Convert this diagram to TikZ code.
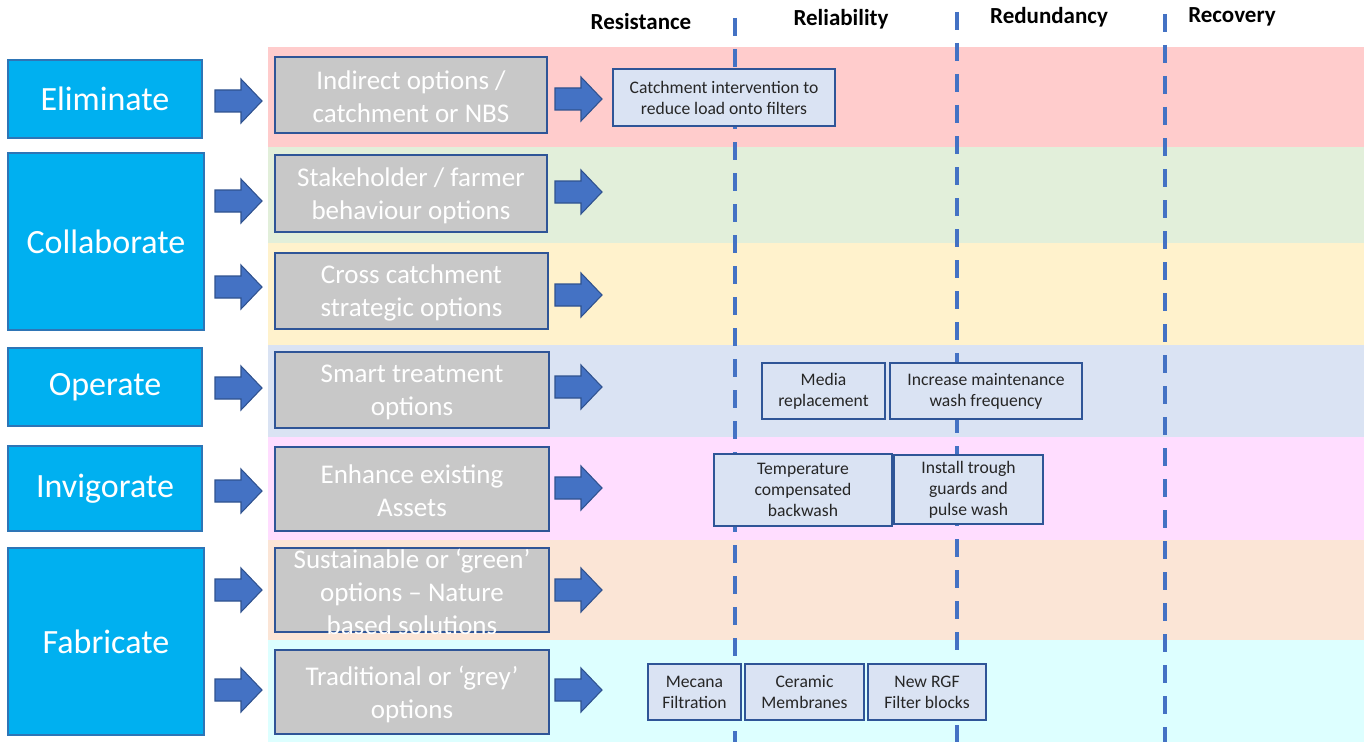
\documentclass[tikz,border=0pt]{standalone}
\usepackage{fontspec}
\setmainfont{Carlito}
\usetikzlibrary{fit}

\definecolor{bandred}{HTML}{FFCCCC}
\definecolor{bandgreen}{HTML}{E2EFDA}
\definecolor{bandyellow}{HTML}{FFF2CC}
\definecolor{bandblue}{HTML}{DAE3F3}
\definecolor{bandpink}{HTML}{FFDDFF}
\definecolor{bandpeach}{HTML}{FBE5D6}
\definecolor{bandcyan}{HTML}{DDFFFF}
\definecolor{stagefill}{HTML}{00B0F0}
\definecolor{stageedge}{HTML}{2E75B6}
\definecolor{optfill}{HTML}{C8C8C8}
\definecolor{optedge}{HTML}{2F5597}
\definecolor{measfill}{HTML}{DAE3F3}
\definecolor{measedge}{HTML}{2F5597}
\definecolor{arrowfill}{HTML}{4472C4}
\definecolor{arrowedge}{HTML}{2F528F}
\definecolor{dividercol}{HTML}{4472C4}
\definecolor{meastext}{HTML}{262626}

% block arrow with its tail centred at the given point
\newcommand\blockarrow[2]{%
  \path[blockarrow] (#1,#2) ++(0,-11) -- ++(26,0) -- ++(0,-11) -- ++(21,22)
    -- ++(-21,22) -- ++(0,-11) -- ++(-26,0) -- cycle;}

\begin{document}
\begin{tikzpicture}[x=0.75pt,y=-0.75pt,
  stage/.style={draw=stageedge,fill=stagefill,line width=1.5pt,inner sep=0pt},
  stagetext/.style={text=white,inner sep=0pt,font=\fontsize{25.5}{30}\selectfont},
  option/.style={draw=optedge,fill=optfill,line width=1.4pt,inner sep=0pt},
  opttext/.style={text=white,align=center,inner sep=0pt,
    font=\fontsize{20.25}{24.75}\selectfont},
  measure/.style={draw=measedge,fill=measfill,line width=1.1pt,inner sep=0pt},
  meastext/.style={text=meastext,align=center,inner sep=0pt,
    font=\fontsize{13.2}{15.75}\selectfont},
  header/.style={font=\bfseries\fontsize{17.25}{20}\selectfont,inner sep=0pt},
  blockarrow/.style={fill=arrowfill,draw=arrowedge,line width=0.8pt,line join=miter},
  divider/.style={draw=dividercol,line width=3pt,dash pattern=on 13.5pt off 9.75pt},
]
\useasboundingbox (0,0) rectangle (1364,742);

% coloured rows
\fill[bandred]    (268,47)  rectangle (1364,147);
\fill[bandgreen]  (268,147) rectangle (1364,243);
\fill[bandyellow] (268,243) rectangle (1364,345);
\fill[bandblue]   (268,345) rectangle (1364,437);
\fill[bandpink]   (268,437) rectangle (1364,540);
\fill[bandpeach]  (268,540) rectangle (1364,640);
\fill[bandcyan]   (268,640) rectangle (1364,742);

% column dividers
\draw[divider] (735,18) -- (735,742);
\draw[divider] (957,12) -- (957,742);
\draw[divider] (1165,14) -- (1165,742);

% column headings
\node[header] (hres) at (641,22) {Resistance};
\node[header] (hrel) at (841,19) {Reliability};
\node[header] (hred) at (1049,17) {Redundancy};
\node[header] (hrec) at (1232,17) {Recovery};

% stages
\node[stage,fit={(8,60)(202,138)},label={[stagetext]center:Eliminate}] (elim) {};
\node[stage,fit={(8,153)(204,330)},label={[stagetext]center:Collaborate}] (coll) {};
\node[stage,fit={(8,348)(202,426)},label={[stagetext]center:Operate}] (oper) {};
\node[stage,fit={(8,446)(202,531)},label={[stagetext]center:Invigorate}] (invig) {};
\node[stage,fit={(8,548)(204,735)},label={[stagetext]center:Fabricate}] (fabr) {};

% option groups
\node[option,fit={(275,57)(547,133)},
  label={[opttext,yshift=-1.5pt]center:{Indirect options /\\catchment or NBS}}] (indir) {};
\node[option,fit={(275,155)(547,232)},
  label={[opttext,yshift=-1.5pt]center:{Stakeholder / farmer\\behaviour options}}] (stake) {};
\node[option,fit={(275,253)(548,329)},
  label={[opttext,yshift=-1.5pt]center:{Cross catchment\\strategic options}}] (cross) {};
\node[option,fit={(275,352)(549,428)},
  label={[opttext,yshift=-1.5pt]center:{Smart treatment\\options}}] (smart) {};
\node[option,fit={(275,447)(549,531)},
  label={[opttext,yshift=-1.5pt]center:{Enhance existing\\Assets}}] (enh) {};
\node[option,fit={(275,548)(549,632)},
  label={[opttext,yshift=-1.5pt]center:{Sustainable or ‘green’\\options – Nature\\based solutions}}] (sust) {};
\node[option,fit={(275,650)(549,734)},
  label={[opttext,yshift=-1.5pt]center:{Traditional or ‘grey’\\options}}] (trad) {};

% arrows from stages to option groups
\blockarrow{215}{101}
\blockarrow{215}{201}
\blockarrow{215}{287}
\blockarrow{215}{388}
\blockarrow{215}{491}
\blockarrow{215}{590}
\blockarrow{215}{690}

% arrows from option groups to measures
\blockarrow{555}{99}
\blockarrow{555}{192}
\blockarrow{555}{295}
\blockarrow{555}{387}
\blockarrow{555}{488}
\blockarrow{555}{590}
\blockarrow{555}{690}

% measures
\node[measure,fit={(613,69)(835,126)},
  label={[meastext]center:{Catchment intervention to\\reduce load onto filters}}] (catch) {};
\node[measure,fit={(762,363)(885,419)},
  label={[meastext]center:{Media\\replacement}}] (media) {};
\node[measure,fit={(890,363)(1082,419)},
  label={[meastext]center:{Increase maintenance\\wash frequency}}] (wash) {};
\node[measure,fit={(714,454)(892,526)},
  label={[meastext]center:{Temperature\\compensated\\backwash}}] (temp) {};
\node[measure,fit={(894,455)(1043,524)},
  label={[meastext]center:{Install trough\\guards and\\pulse wash}}] (trough) {};
\node[measure,fit={(648,664)(741,720)},
  label={[meastext]center:{Mecana\\Filtration}}] (mecana) {};
\node[measure,fit={(745,664)(864,720)},
  label={[meastext]center:{Ceramic\\Membranes}}] (ceramic) {};
\node[measure,fit={(868,664)(986,720)},
  label={[meastext]center:{New RGF\\Filter blocks}}] (rgf) {};
\end{tikzpicture}
\end{document}
